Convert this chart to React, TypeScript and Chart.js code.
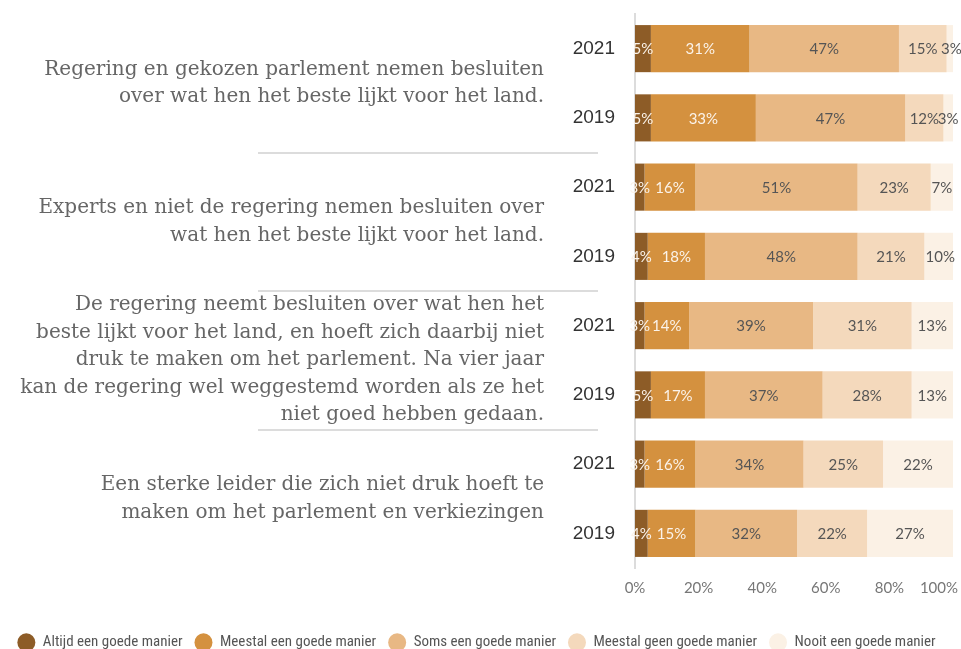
import React, { useEffect, useRef } from 'react';
import { Chart, registerables } from 'chart.js';

Chart.register(...registerables);

const yearLabels = ['2021', '2019', '2021', '2019', '2021', '2019', '2021', '2019'];

const questions: string[][] = [
  ['Regering en gekozen parlement nemen besluiten', 'over wat hen het beste lijkt voor het land.'],
  ['Experts en niet de regering nemen besluiten over', 'wat hen het beste lijkt voor het land.'],
  [
    'De regering neemt besluiten over wat hen het',
    'beste lijkt voor het land, en hoeft zich daarbij niet',
    'druk te maken om het parlement. Na vier jaar',
    'kan de regering wel weggestemd worden als ze het',
    'niet goed hebben gedaan.',
  ],
  ['Een sterke leider die zich niet druk hoeft te', 'maken om het parlement en verkiezingen'],
];

const seriesNames = [
  'Altijd een goede manier',
  'Meestal een goede manier',
  'Soms een goede manier',
  'Meestal geen goede manier',
  'Nooit een goede manier',
];

const altijd = [5, 5, 3, 4, 3, 5, 3, 4];
const meestalGoed = [31, 33, 16, 18, 14, 17, 16, 15];
const soms = [47, 47, 51, 48, 39, 37, 34, 32];
const meestalGeen = [15, 12, 23, 21, 31, 28, 25, 22];
const nooit = [3, 3, 7, 10, 13, 13, 22, 27];

const xTicks = [0, 20, 40, 60, 80, 100];

const seriesColors = ['#8d5c27', '#d4913f', '#e8b884', '#f4d9bc', '#fbf1e5'];
const labelColors = ['#fbf3ea', '#fbf3ea', '#555555', '#555555', '#555555'];

const annotationsPlugin = {
  id: 'annotations',
  afterDatasetsDraw(chart: any) {
    const { ctx } = chart;
    ctx.save();
    ctx.font = '15px Lato';
    ctx.textAlign = 'center';
    ctx.textBaseline = 'middle';
    chart.data.datasets.forEach((ds: any, di: number) => {
      const meta = chart.getDatasetMeta(di);
      meta.data.forEach((bar: any, i: number) => {
        const v = ds.data[i];
        const cx = (bar.x + bar.base) / 2;
        ctx.fillStyle = labelColors[di];
        ctx.fillText(`${v}%`, cx, bar.y + 1);
      });
    });
    ctx.restore();
  },
  afterDraw(chart: any) {
    const { ctx, chartArea, scales } = chart;
    const y = scales.y;
    const x = scales.x;
    ctx.save();
    // separators between groups
    ctx.strokeStyle = '#dcdcdc';
    ctx.lineWidth = 2;
    for (let g = 1; g < questions.length; g++) {
      const yy = Math.round((y.getPixelForValue(2 * g - 1) + y.getPixelForValue(2 * g)) / 2);
      ctx.beginPath();
      ctx.moveTo(258, yy);
      ctx.lineTo(598, yy);
      ctx.stroke();
    }
    // question texts
    const textRight = chartArea.left - 91;
    ctx.font = '20px "DejaVu Serif"';
    ctx.fillStyle = '#666666';
    ctx.textAlign = 'right';
    ctx.textBaseline = 'middle';
    const lh = 27.5;
    questions.forEach((lines, g) => {
      const cy = (y.getPixelForValue(2 * g) + y.getPixelForValue(2 * g + 1)) / 2;
      lines.forEach((ln, i) => {
        ctx.fillText(ln, textRight, cy + (i - (lines.length - 1) / 2) * lh);
      });
    });
    // x tick labels
    ctx.font = '15px Lato';
    ctx.fillStyle = '#777777';
    ctx.textAlign = 'center';
    xTicks.forEach((v) => {
      const label = `${v}%`;
      const w = ctx.measureText(label).width;
      let px = x.getPixelForValue(v);
      px = Math.min(px, chart.width - 3 - w / 2);
      ctx.fillText(label, px, chartArea.bottom + 20);
    });
    ctx.restore();
  },
};

export default function App() {
  const canvasRef = useRef<HTMLCanvasElement | null>(null);

  useEffect(() => {
    if (!canvasRef.current) return;
    const data = [altijd, meestalGoed, soms, meestalGeen, nooit];
    const chart = new Chart(canvasRef.current, {
      type: 'bar',
      data: {
        labels: yearLabels,
        datasets: data.map((d, i) => ({
          label: seriesNames[i],
          data: d,
          backgroundColor: seriesColors[i],
          borderWidth: 0,
          categoryPercentage: 1,
          barPercentage: 0.68,
        })),
      },
      options: {
        indexAxis: 'y',
        responsive: true,
        maintainAspectRatio: false,
        animation: false,
        layout: { padding: { top: 14, right: 8, left: 0, bottom: 0 } },
        scales: {
          x: {
            stacked: true,
            min: 0,
            max: 100,
            grid: { display: false },
            border: { display: false },
            ticks: { display: false },
            afterFit(s: any) {
              s.height = 55;
              s.paddingLeft = 0;
              s.paddingRight = 0;
            },
          },
          y: {
            stacked: true,
            grid: { display: false },
            border: { display: true, color: '#dcdcdc', width: 2 },
            ticks: {
              color: '#333333',
              font: { family: "'Liberation Sans', Arial", size: 19 },
              padding: 12,
            },
            afterFit(s: any) {
              s.width = 635;
              s.paddingTop = 0;
              s.paddingBottom = 0;
            },
          },
        },
        plugins: {
          legend: {
            position: 'bottom',
            labels: {
              usePointStyle: true,
              pointStyle: 'circle',
              pointStyleWidth: 18,
              boxHeight: 13,
              padding: 12,
              color: '#555555',
              font: { family: "'Liberation Sans Narrow', 'Roboto Condensed', Roboto", size: 15 },
            },
          },
          tooltip: { enabled: false },
        },
      } as any,
      plugins: [annotationsPlugin],
    });
    return () => chart.destroy();
  }, []);

  return (
    <div
      style={{
        position: 'fixed',
        left: 0,
        top: 0,
        width: 961,
        height: 649,
        overflow: 'hidden',
        background: '#ffffff',
      }}
    >
      <div style={{ position: 'relative', width: 961, height: 660 }}>
        <canvas ref={canvasRef} />
      </div>
    </div>
  );
}
